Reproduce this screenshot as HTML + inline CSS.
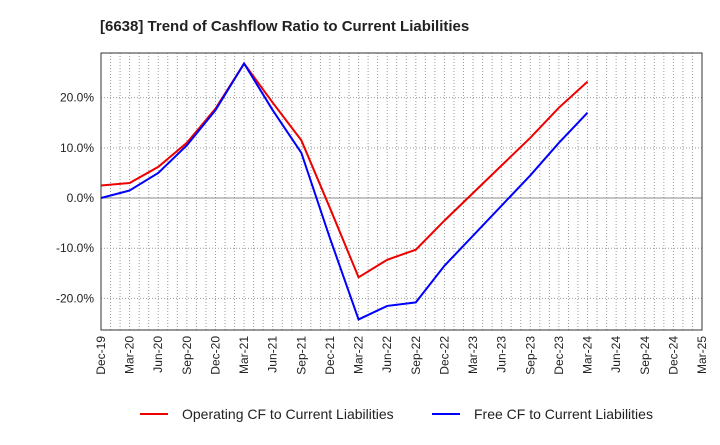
<!DOCTYPE html>
<html><head><meta charset="utf-8"><style>
body{margin:0;background:#fff;font-family:"Liberation Sans",sans-serif;}
</style></head><body>
<svg width="720" height="440" xmlns="http://www.w3.org/2000/svg">
<text x="100" y="31" font-size="15" font-weight="bold" fill="#222">[6638]  Trend of Cashflow Ratio to Current Liabilities</text>
<g id="grid"></g>
<g id="axes"></g>
<g id="series"></g>
<g>
<line x1="140" y1="414" x2="168" y2="414" stroke="#e00" stroke-width="2"/>
<text x="182" y="419" font-size="14" fill="#222">Operating CF to Current Liabilities</text>
<line x1="432" y1="414" x2="460" y2="414" stroke="#00f" stroke-width="2"/>
<text x="474" y="419" font-size="14" fill="#222">Free CF to Current Liabilities</text>
</g>
</svg>
<script>
const categories=["Dec-19","Mar-20","Jun-20","Sep-20","Dec-20","Mar-21","Jun-21","Sep-21","Dec-21","Mar-22","Jun-22","Sep-22","Dec-22","Mar-23","Jun-23","Sep-23","Dec-23","Mar-24","Jun-24","Sep-24","Dec-24","Mar-25"];
const operatingCF=[2.5,3.0,6.2,11,17.8,26.8,19,11.5,-2,-15.8,-12.3,-10.3,-4.5,1,6.5,12,18,23.2];
const freeCF=[0,1.5,5,10.5,17.5,26.8,17.5,9,-8,-24.2,-21.5,-20.8,-13.5,-7.5,-1.5,4.5,11,17];
const yTicks=[-20,-10,0,10,20];
const yTickLabels=["-20.0%","-10.0%","0.0%","10.0%","20.0%"];
const L=101,R=702,T=53,B=330,yMax=28.9,yMin=-26.3;
const ns="http://www.w3.org/2000/svg";
const x=i=>L+i*(R-L)/(categories.length-1);
const y=v=>T+(yMax-v)/(yMax-yMin)*(B-T);
function mk(tag,attrs,parent,text){const e=document.createElementNS(ns,tag);for(const k in attrs)e.setAttribute(k,attrs[k]);if(text!==undefined)e.textContent=text;document.getElementById(parent).appendChild(e);return e;}
const nMonths=(categories.length-1)*3;
for(let m=1;m<nMonths;m++){
  const gx=x(m/3);
  const g=mk('line',{x1:gx,x2:gx,y1:T,y2:B,stroke:'#999','stroke-dasharray':'1,2','stroke-width':1},'grid');
  
  
}
categories.forEach((c,i)=>{
  const t=mk('text',{x:0,y:0,'font-size':12,fill:'#222','text-anchor':'end',transform:`translate(${x(i)+4},${B+6}) rotate(-90)`},'axes',c);
  
  
});
yTicks.forEach((v,i)=>{
  const g=mk('line',{x1:L,x2:R,y1:y(v),y2:y(v),stroke:v===0?'#888':'#999','stroke-dasharray':v===0?'':'1,2','stroke-width':1},'grid');
  
  
  const t=mk('text',{x:L-7,y:y(v)+4,'font-size':12,fill:'#222','text-anchor':'end'},'axes',yTickLabels[i]);
  
  
});
const frame=mk('rect',{x:L,y:T,width:R-L,height:B-T,fill:'none',stroke:'#333','stroke-width':1},'axes');


const pts=a=>a.map((v,i)=>x(i)+','+y(v)).join(' ');
const l1=mk('polyline',{points:pts(operatingCF),fill:'none',stroke:'#e00','stroke-width':2},'series');


const l2=mk('polyline',{points:pts(freeCF),fill:'none',stroke:'#00f','stroke-width':2},'series');


</script>
</body></html>
